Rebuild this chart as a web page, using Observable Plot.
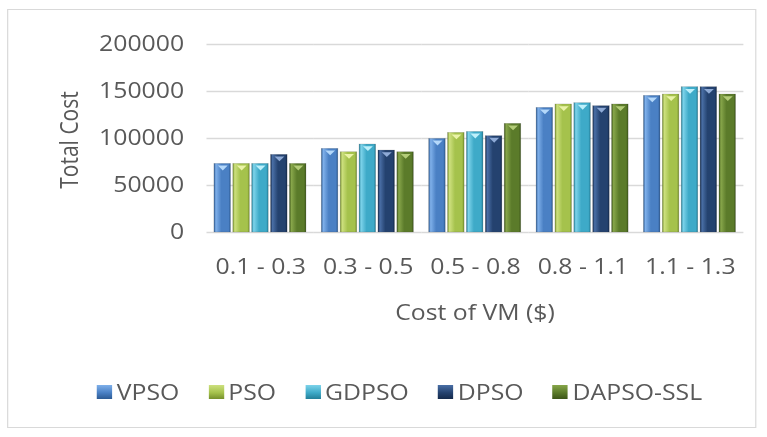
<!DOCTYPE html>
<html>
<head>
<meta charset="utf-8">
<script src="https://cdn.jsdelivr.net/npm/d3@7"></script>
<script src="https://cdn.jsdelivr.net/npm/@observablehq/plot@0.6"></script>
<style>
  html, body { margin: 0; padding: 0; background: #ffffff; }
  #wrap {
    position: absolute; left: 0; top: 0; width: 650px; height: 437px;
    transform: scaleX(1.18); transform-origin: 0 0;
    font-family: "Open Sans", sans-serif; color: #595959;
  }
  #frame { position: absolute; left: 6px; top: 9px; width: 635px; height: 419px; border: 1px solid #d9d9d9; box-sizing: border-box; }
  #chart { position: absolute; left: 0; top: 0; }
  #xtitle { position: absolute; left: 0; width: 805px; top: 298px; text-align: center; font-size: 21px; white-space: nowrap; }
  #ytitle { position: absolute; left: 57.6px; top: 140px; font-size: 21px; white-space: nowrap; transform: translate(-50%, -50%) rotate(-90deg); }
  #legend { position: absolute; left: 82px; top: 378px; display: flex; align-items: center; font-size: 21px; white-space: nowrap; }
  .item { display: flex; align-items: center; margin-right: 24.5px; }
  .sw { width: 13px; height: 14px; margin-right: 4px; box-sizing: border-box; }
</style>
</head>
<body>
<div id="wrap">
  <div id="frame"></div>
  <div id="chart"></div>
  <div id="xtitle">Cost of VM ($)</div>
  <div id="ytitle">Total Cost</div>
  <div id="legend"></div>
</div>
<script>
// ---- data ----
const categories = ["0.1 - 0.3", "0.3 - 0.5", "0.5 - 0.8", "0.8 - 1.1", "1.1 - 1.3"];
const seriesNames = ["VPSO", "PSO", "GDPSO", "DPSO", "DAPSO-SSL"];
const VPSO      = [73000, 89000,  99600, 132600, 145400];
const PSO       = [73000, 85400, 106000, 136200, 146800];
const GDPSO     = [73000, 93600, 107000, 137600, 154600];
const DPSO      = [82600, 87200, 102500, 134400, 154600];
const DAPSO_SSL = [73000, 85400, 115600, 136200, 146800];
const yTicks = [0, 50000, 100000, 150000, 200000];

// ---- styles ----
const palette = {
  "VPSO":      {light: "#7fb0ea", base: "#4a80c4", dark: "#2c5a93", cap: "#b4d8fa"},
  "PSO":       {light: "#cde07e", base: "#a5c24c", dark: "#76902c", cap: "#eaf3a8"},
  "GDPSO":     {light: "#7dd3ea", base: "#3eaac8", dark: "#237f99", cap: "#bdf0fb"},
  "DPSO":      {light: "#4a6fa6", base: "#24426f", dark: "#142a4c", cap: "#8eaad6"},
  "DAPSO-SSL": {light: "#87a64a", base: "#5b7b2a", dark: "#3c5518", cap: "#b3cc78"}
};

const seriesValues = {"VPSO": VPSO, "PSO": PSO, "GDPSO": GDPSO, "DPSO": DPSO, "DAPSO-SSL": DAPSO_SSL};
const data = categories.flatMap((c, i) => seriesNames.map(s => ({cat: c, series: s, value: seriesValues[s][i]})));

const gradIds = seriesNames.map((s, i) => `grad${i}`);

const downTriangle = {
  draw(context, size) {
    const w = Math.sqrt(size) * 0.62;
    context.moveTo(-w, -w * 0.55);
    context.lineTo(w, -w * 0.55);
    context.lineTo(0, w * 0.6);
    context.closePath();
  }
};

const chart = Plot.plot({
  width: 650,
  height: 300,
  marginTop: 44,
  marginBottom: 68,
  marginLeft: 173.7,
  marginRight: 19.5,
  style: {fontFamily: "'Open Sans', sans-serif", fontSize: "21px", color: "#595959", background: "transparent", overflow: "visible"},
  facet: {data, x: "cat"},
  fx: {domain: categories, padding: 0, axis: "bottom", tickSize: 0, tickPadding: 27, label: null},
  x: {domain: seriesNames, paddingInner: 0.1, paddingOuter: 0.39, axis: null},
  y: {domain: [0, 200000], ticks: yTicks, tickFormat: d3.format("d"), tickSize: 0, tickPadding: 19.5, label: null},
  color: {domain: seriesNames, range: gradIds.map(id => `url(#${id})`)},
  marks: [
    Plot.ruleY(yTicks, {stroke: "#d9d9d9", strokeWidth: 1.3}),
    Plot.barY(data, {x: "series", y: "value", fill: "series", stroke: "#3a3a3a", strokeOpacity: 0.25, strokeWidth: 0.6}),
    ...seriesNames.map(s => Plot.dot(data, {
      filter: d => d.series === s,
      x: "series", y: "value", dy: 4, r: 3.8,
      symbol: downTriangle, fill: palette[s].cap, stroke: "none"
    }))
  ]
});

// gradient definitions for the bevelled bars
const defs = d3.select(chart).insert("defs", ":first-child");
seriesNames.forEach((s, i) => {
  const p = palette[s];
  const g = defs.append("linearGradient").attr("id", gradIds[i]).attr("x1", "0").attr("x2", "1").attr("y1", "0").attr("y2", "0");
  g.append("stop").attr("offset", "0%").attr("stop-color", p.dark);
  g.append("stop").attr("offset", "12%").attr("stop-color", p.light);
  g.append("stop").attr("offset", "45%").attr("stop-color", p.base);
  g.append("stop").attr("offset", "88%").attr("stop-color", p.base);
  g.append("stop").attr("offset", "100%").attr("stop-color", p.dark);
});

document.getElementById("chart").appendChild(chart);

// legend
const legend = d3.select("#legend");
seriesNames.forEach(s => {
  const p = palette[s];
  const it = legend.append("div").attr("class", "item");
  it.append("div").attr("class", "sw")
    .style("background", `linear-gradient(to bottom, ${p.light}, ${p.base} 55%, ${p.dark})`);
  it.append("span").text(s);
});
</script>
</body>
</html>
